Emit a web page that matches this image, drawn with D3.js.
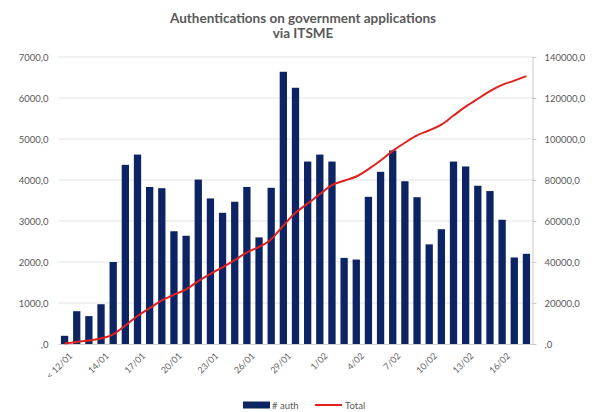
<!DOCTYPE html>
<html>
<head>
<meta charset="utf-8">
<script src="https://cdn.jsdelivr.net/npm/d3@7/dist/d3.min.js"></script>
<style>
  html, body { margin: 0; padding: 0; background: #fff; }
  svg { display: block; font-family: Lato, "Open Sans", sans-serif; }
</style>
</head>
<body>
<div id="chart"></div>
<script>
// categories (days), "< 12/01" groups everything before
const days = [
  "< 12/01", "12/01", "13/01", "14/01", "15/01", "16/01", "17/01", "18/01", "19/01", "20/01",
  "21/01", "22/01", "23/01", "24/01", "25/01", "26/01", "27/01", "28/01", "29/01", "30/01",
  "31/01", "1/02", "2/02", "3/02", "4/02", "5/02", "6/02", "7/02", "8/02", "9/02",
  "10/02", "11/02", "12/02", "13/02", "14/02", "15/02", "16/02", "17/02", "18/02"
];

// # auth per day (left axis)
const auths = [
  200, 800, 680, 970, 2000, 4370, 4620, 3830, 3800, 2750,
  2640, 4010, 3550, 3200, 3470, 3830, 2600, 3810, 6640, 6250,
  4450, 4620, 4450, 2100, 2060, 3590, 4200, 4720, 3970, 3580,
  2430, 2800, 4450, 4330, 3860, 3730, 3030, 2110, 2200
];

// running total (right axis)
const totals = [
  200, 1000, 1680, 2650, 4650, 9020, 13640, 17470, 21270, 24020,
  26660, 30670, 34220, 37420, 40890, 44720, 47320, 51130, 57770, 64020,
  68470, 73090, 77540, 79640, 81700, 85290, 89490, 94210, 98180, 101760,
  104190, 106990, 111440, 115770, 119630, 123360, 126390, 128500, 130700
];

const leftTicks = [0, 1000, 2000, 3000, 4000, 5000, 6000, 7000];
const rightTicks = [0, 20000, 40000, 60000, 80000, 100000, 120000, 140000];

const width = 595, height = 412;
const plot = { left: 58.5, right: 532.5, top: 57, bottom: 344 };

const svg = d3.select("#chart").append("svg")
  .attr("width", width)
  .attr("height", height);

const fmt = v => v === 0 ? ",0" : v + ",0";
const grey = "#595959";

const x = d3.scaleBand()
  .domain(days)
  .range([plot.left, plot.right])
  .paddingInner(0.4)
  .paddingOuter(0.2);

const yLeft = d3.scaleLinear().domain([0, 7000]).range([plot.bottom, plot.top]);
const yRight = d3.scaleLinear().domain([0, 140000]).range([plot.bottom, plot.top]);

// title
svg.append("text")
  .attr("text-anchor", "middle")
  .attr("font-weight", "bold")
  .attr("font-size", 13.5)
  .attr("fill", grey)
  .selectAll("tspan")
  .data(["Authentications on government applications", "via ITSME"])
  .join("tspan")
  .attr("x", 303)
  .attr("y", (d, i) => 22.5 + i * 15.5)
  .text(d => d);

// gridlines
svg.append("g")
  .selectAll("line")
  .data(leftTicks.slice(1))
  .join("line")
  .attr("x1", plot.left).attr("x2", plot.right)
  .attr("y1", d => yLeft(d)).attr("y2", d => yLeft(d))
  .attr("stroke", "#e3e3e3")
  .attr("stroke-width", 1);

// left axis labels
const gl = svg.append("g")
  .attr("transform", "translate(" + plot.left + ",0)")
  .call(d3.axisLeft(yLeft).tickValues(leftTicks).tickFormat(fmt).tickSize(0).tickPadding(10));
gl.select(".domain").remove();
gl.selectAll("text").attr("fill", grey).attr("font-size", 9.5).attr("font-family", "Lato, sans-serif");

// right axis
const gr = svg.append("g")
  .attr("transform", "translate(" + plot.right + ",0)")
  .call(d3.axisRight(yRight).tickValues(rightTicks).tickFormat(fmt).tickSize(4).tickSizeOuter(0).tickPadding(8));
gr.select(".domain").attr("stroke", "#c8c8c8");
gr.selectAll(".tick line").attr("stroke", "#c8c8c8");
gr.selectAll("text").attr("fill", grey).attr("font-size", 9.5).attr("font-family", "Lato, sans-serif");

// bars
svg.append("g")
  .selectAll("rect")
  .data(auths)
  .join("rect")
  .attr("x", (d, i) => x(days[i]))
  .attr("y", d => yLeft(d))
  .attr("width", x.bandwidth())
  .attr("height", d => yLeft(0) - yLeft(d))
  .attr("fill", "#0d2464");

// bottom axis
const gx = svg.append("g")
  .attr("transform", "translate(0," + plot.bottom + ")")
  .call(d3.axisBottom(x)
    .tickValues(days.filter((d, i) => i % 3 === 0))
    .tickSize(0)
    .tickPadding(6));
gx.select(".domain").attr("stroke", "#d0d0d0").attr("d", "M" + plot.left + ",0.5H" + plot.right);
gx.selectAll("text")
  .attr("fill", "#666")
  .attr("font-size", 9)
  .attr("font-family", "Lato, sans-serif")
  .attr("text-anchor", "end")
  .attr("dy", "0.35em")
  .attr("transform", "translate(2,6) rotate(-45)");

// total line
const line = d3.line()
  .x((d, i) => x(days[i]) + x.bandwidth() / 2)
  .y(d => yRight(d))
  .curve(d3.curveMonotoneX);

svg.append("path")
  .datum(totals)
  .attr("d", line)
  .attr("fill", "none")
  .attr("stroke", "#e0211d")
  .attr("stroke-width", 2);

// legend
const lg = svg.append("g").attr("font-size", 9.5).attr("fill", grey);
lg.append("rect").attr("x", 243).attr("y", 401.5).attr("width", 27).attr("height", 7).attr("fill", "#0d2464");
lg.append("text").attr("x", 272).attr("y", 408.5).text("# auth");
lg.append("line").attr("x1", 315).attr("x2", 342).attr("y1", 405).attr("y2", 405)
  .attr("stroke", "#e0211d").attr("stroke-width", 2);
lg.append("text").attr("x", 345).attr("y", 408.5).text("Total");
</script>
</body>
</html>
